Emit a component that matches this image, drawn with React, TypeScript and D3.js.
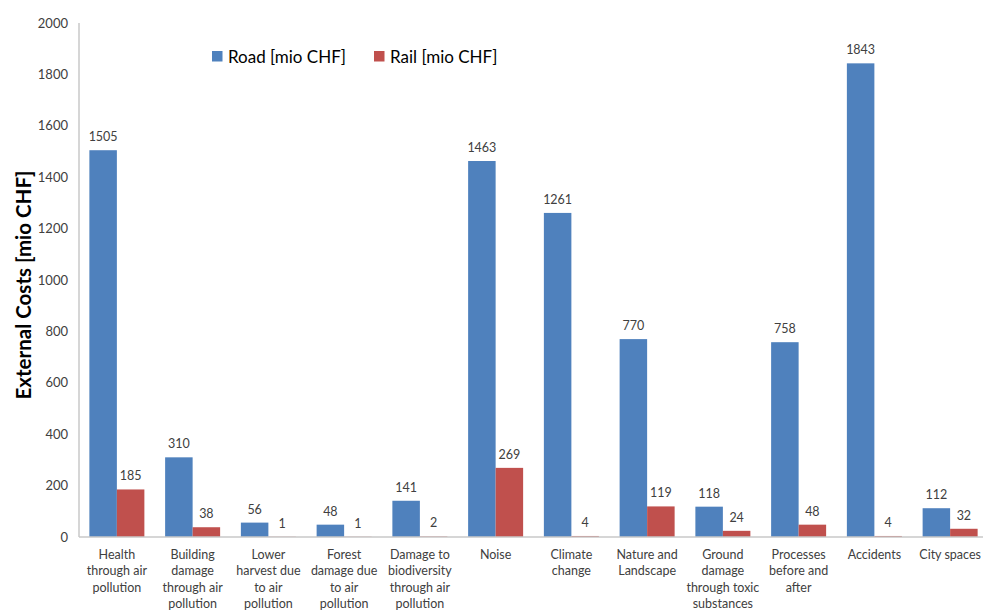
import React from "react";
import * as d3 from "d3";

// External costs of transport by category, in million CHF
const categories: string[][] = [
  ["Health", "through air", "pollution"],
  ["Building", "damage", "through air", "pollution"],
  ["Lower", "harvest due", "to air", "pollution"],
  ["Forest", "damage due", "to air", "pollution"],
  ["Damage to", "biodiversity", "through air", "pollution"],
  ["Noise"],
  ["Climate", "change"],
  ["Nature and", "Landscape"],
  ["Ground", "damage", "through toxic", "substances"],
  ["Processes", "before and", "after"],
  ["Accidents"],
  ["City spaces"],
];
const roadValues = [1505, 310, 56, 48, 141, 1463, 1261, 770, 118, 758, 1843, 112];
const railValues = [185, 38, 1, 1, 2, 269, 4, 119, 24, 48, 4, 32];
const yTicks = [0, 200, 400, 600, 800, 1000, 1200, 1400, 1600, 1800, 2000];
const seriesNames = ["Road [mio CHF]", "Rail [mio CHF]"];
const seriesColors = ["#4F81BD", "#C0504D"];

const W = 983;
const H = 612;
const FONT = "Lato, 'Open Sans', sans-serif";

export default function App() {
  const x0 = 79;
  const band = 75.75;
  const x = d3
    .scaleBand<number>()
    .domain(d3.range(categories.length))
    .range([x0, x0 + band * categories.length])
    .paddingInner(0)
    .paddingOuter(0);
  const barW = 27.5;
  const y = d3.scaleLinear().domain([0, 2000]).range([537, 23]);
  const series = [roadValues, railValues];

  return (
    <svg
      width={W}
      height={H}
      style={{ position: "absolute", left: 0, top: 0, background: "#fff" }}
      fontFamily={FONT}
    >
      {/* y axis */}
      <line x1={x0} x2={x0} y1={y(2000)} y2={y(0)} stroke="#C8C8C8" strokeWidth={1.5} />
      {yTicks.map((t) => (
        <text key={t} x={68} y={y(t)} dy="0.35em" textAnchor="end" fontSize={13} fill="#404040">
          {t}
        </text>
      ))}
      <text
        transform={`translate(31,285) rotate(-90)`}
        textAnchor="middle"
        fontSize={20.5}
        fontWeight="bold"
        fill="#000"
      >
        External Costs [mio CHF]
      </text>

      {/* bars and value labels */}
      {series.map((vals, s) =>
        vals.map((v, i) => {
          const cx = (x(i) as number) + x.bandwidth() / 2;
          const bx = s === 0 ? cx - barW : cx;
          return (
            <g key={`${s}-${i}`}>
              <rect x={bx} y={y(v)} width={barW} height={y(0) - y(v)} fill={seriesColors[s]} />
              <text
                x={bx + barW / 2}
                y={y(v) - 9}
                textAnchor="middle"
                fontSize={12.5}
                fill="#404040"
              >
                {v}
              </text>
            </g>
          );
        })
      )}

      {/* x axis */}
      <line x1={x0} x2={W} y1={y(0)} y2={y(0)} stroke="#C8C8C8" strokeWidth={1.5} />
      {categories.map((lines, i) => {
        const cx = (x(i) as number) + x.bandwidth() / 2;
        return (
          <text key={i} textAnchor="middle" fontSize={12.5} fill="#404040">
            {lines.map((ln, k) => (
              <tspan key={k} x={cx} y={559 + k * 16.3}>
                {ln}
              </tspan>
            ))}
          </text>
        );
      })}

      {/* legend */}
      {seriesNames.map((name, s) => {
        const lx = s === 0 ? 212 : 374;
        return (
          <g key={name}>
            <rect x={lx} y={51} width={10.5} height={10.5} fill={seriesColors[s]} />
            <text x={lx + 16} y={62.5} fontSize={17} fill="#000">
              {name}
            </text>
          </g>
        );
      })}
    </svg>
  );
}
